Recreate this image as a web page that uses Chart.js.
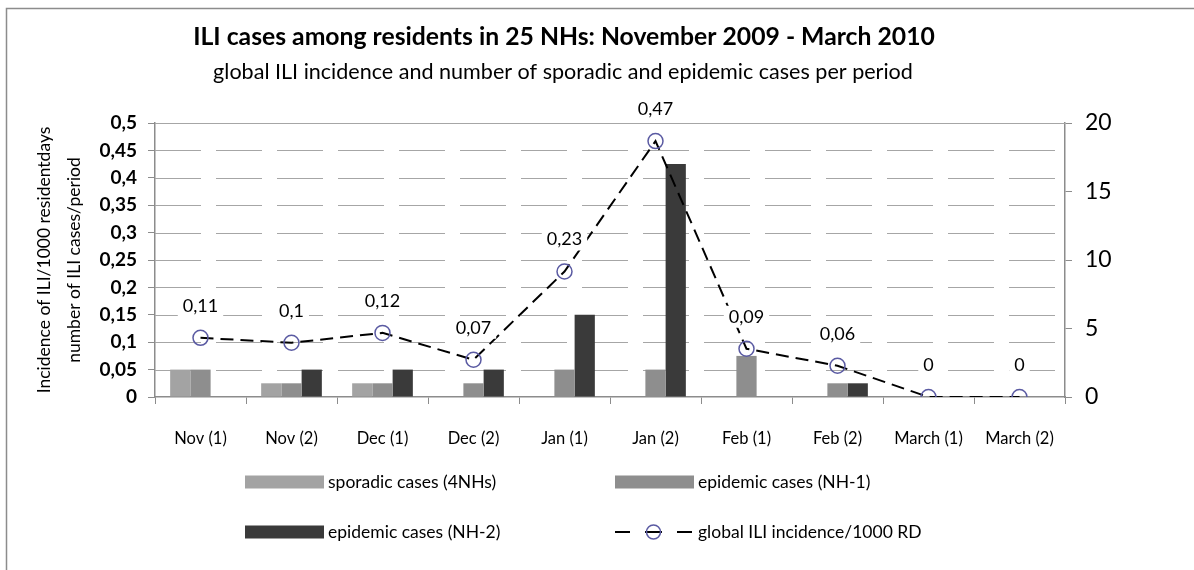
<!DOCTYPE html>
<html>
<head>
<meta charset="utf-8">
<script src="https://cdn.jsdelivr.net/npm/chart.js@4.4.1/dist/chart.umd.min.js"></script>
<style>
  html, body { margin: 0; padding: 0; background: #ffffff; }
  #wrap { width: 1194px; height: 570px; position: relative; }
</style>
</head>
<body>
<div id="wrap"><canvas id="c" width="1194" height="570"></canvas></div>
<script>
// ---- data ----
const categories = ['Nov (1)', 'Nov (2)', 'Dec (1)', 'Dec (2)', 'Jan (1)', 'Jan (2)', 'Feb (1)', 'Feb (2)', 'March (1)', 'March (2)'];
const sporadicCases = [2, 1, 1, 0, 0, 0, 0, 0, 0, 0];
const epidemicNH1 = [2, 1, 1, 1, 2, 2, 3, 1, 0, 0];
const epidemicNH2 = [0, 2, 2, 2, 6, 17, 0, 1, 0, 0];
const incidence = [0.108, 0.099, 0.117, 0.068, 0.229, 0.467, 0.088, 0.057, 0, 0];
const leftTicks = [0, 0.05, 0.1, 0.15, 0.2, 0.25, 0.3, 0.35, 0.4, 0.45, 0.5];
const rightTicks = [0, 5, 10, 15, 20];
const seriesNames = ['sporadic cases (4NHs)', 'epidemic cases (NH-1)', 'epidemic cases (NH-2)', 'global ILI incidence/1000 RD'];
const titleText = 'ILI cases among residents in 25 NHs: November 2009 - March 2010';
const subtitleText = 'global ILI incidence and number of sporadic and epidemic cases per period';
const yTitleLines = ['Incidence of ILI/1000 residentdays', 'number of ILI cases/period'];

const FONT = 'Lato, "Open Sans", sans-serif';
const fmt = v => (Math.round(v * 100) / 100).toString().replace('.', ',');

function fitFont(ctx, text, target, weight, base) {
  ctx.font = weight + ' ' + base + 'px ' + FONT;
  const w = ctx.measureText(text).width;
  return base * target / w;
}

const decor = {
  id: 'decor',
  beforeDraw(chart) {
    const ctx = chart.ctx;
    ctx.save();
    ctx.fillStyle = '#ffffff';
    ctx.fillRect(0, 0, chart.width, chart.height);
    // frame
    ctx.strokeStyle = '#8c8c8c';
    ctx.lineWidth = 1.5;
    ctx.strokeRect(6.5, 8.5, 1400, 800);
    // titles
    ctx.fillStyle = '#000';
    ctx.textAlign = 'center';
    ctx.textBaseline = 'middle';
    let s = fitFont(ctx, titleText, 742, 'bold', 18);
    ctx.font = 'bold ' + s.toFixed(2) + 'px ' + FONT;
    ctx.fillText(titleText, 564, 37);
    s = fitFont(ctx, subtitleText, 700, 'normal', 16);
    ctx.font = 'normal ' + s.toFixed(2) + 'px ' + FONT;
    ctx.fillText(subtitleText, 563, 72);
    // y axis title
    ctx.save();
    ctx.translate(44, 260);
    ctx.rotate(-Math.PI / 2);
    ctx.font = 'normal 17.5px ' + FONT;
    ctx.fillText(yTitleLines[0], 0, 0);
    ctx.fillText(yTitleLines[1], 0, 30);
    ctx.restore();
    ctx.restore();
  },
  beforeDatasetsDraw(chart) {
    const ctx = chart.ctx;
    const ys = chart.scales.y;
    const area = chart.chartArea;
    ctx.save();
    ctx.strokeStyle = '#a6a6a6';
    ctx.lineWidth = 1;
    leftTicks.forEach(v => {
      if (v === 0) return;
      const y = Math.round(ys.getPixelForValue(v)) + 0.5;
      ctx.setLineDash(v === 0.5 ? [] : [46, 15]);
      ctx.beginPath();
      ctx.moveTo(area.left, y);
      ctx.lineTo(area.right, y);
      ctx.stroke();
    });
    ctx.restore();
  },
  afterDatasetsDraw(chart) {
    const ctx = chart.ctx;
    const idx = chart.data.datasets.findIndex(d => d.type === 'line');
    const meta = chart.getDatasetMeta(idx);
    ctx.save();
    ctx.font = 'normal 18px ' + FONT;
    ctx.textAlign = 'center';
    ctx.textBaseline = 'middle';
    meta.data.forEach((pt, i) => {
      const t = fmt(incidence[i]);
      const w = ctx.measureText(t).width + 10;
      const x = pt.x, y = pt.y - 32;
      ctx.fillStyle = '#ffffff';
      ctx.fillRect(x - w / 2, y - 11, w, 22);
      ctx.fillStyle = '#000';
      ctx.fillText(t, x, y);
    });
    ctx.restore();
  },
  afterDraw(chart) {
    // legend
    const ctx = chart.ctx;
    const ds = chart.data.datasets;
    const items = [
      { d: ds[0], x: 245, y: 482 },
      { d: ds[1], x: 615, y: 482 },
      { d: ds[2], x: 245, y: 532 },
      { d: ds[3], x: 615, y: 532 }
    ];
    ctx.save();
    ctx.font = 'normal 17.5px ' + FONT;
    ctx.textBaseline = 'middle';
    ctx.textAlign = 'left';
    items.forEach(it => {
      if (it.d.type === 'line') {
        ctx.strokeStyle = '#000';
        ctx.lineWidth = 2;
        ctx.beginPath();
        ctx.moveTo(it.x, it.y); ctx.lineTo(it.x + 15, it.y);
        ctx.moveTo(it.x + 62, it.y); ctx.lineTo(it.x + 77, it.y);
        ctx.moveTo(it.x + 30, it.y); ctx.lineTo(it.x + 47, it.y);
        ctx.stroke();
        ctx.strokeStyle = it.d.pointBorderColor;
        ctx.lineWidth = 1.5;
        ctx.beginPath();
        ctx.arc(it.x + 38.5, it.y, 7, 0, Math.PI * 2);
        ctx.stroke();
      } else {
        ctx.fillStyle = it.d.backgroundColor;
        ctx.fillRect(it.x, it.y - 6.5, 79, 13);
      }
      ctx.fillStyle = '#000';
      ctx.fillText(it.d.label, it.x + 83, it.y);
    });
    ctx.restore();
  }
};

const ctx = document.getElementById('c').getContext('2d');
new Chart(ctx, {
  data: {
    labels: categories,
    datasets: [
      { type: 'bar', label: seriesNames[0], data: sporadicCases, yAxisID: 'y1', backgroundColor: '#a3a3a3', order: 2 },
      { type: 'bar', label: seriesNames[1], data: epidemicNH1, yAxisID: 'y1', backgroundColor: '#8e8e8e', order: 2 },
      { type: 'bar', label: seriesNames[2], data: epidemicNH2, yAxisID: 'y1', backgroundColor: '#3a3a3a', order: 2 },
      { type: 'line', label: seriesNames[3], data: incidence, yAxisID: 'y', order: 1,
        borderColor: '#000000', borderWidth: 2, borderDash: [13, 7], tension: 0, fill: false,
        pointStyle: 'circle', pointRadius: 7.5, pointBorderColor: '#5a5aa2', pointBorderWidth: 1.5,
        pointBackgroundColor: 'rgba(0,0,0,0)' }
    ]
  },
  options: {
    responsive: false,
    animation: false,
    devicePixelRatio: 1,
    layout: { padding: { top: 123, left: 0, right: 0, bottom: 0 } },
    datasets: { bar: { categoryPercentage: 0.667, barPercentage: 1.0 } },
    plugins: { legend: { display: false }, tooltip: { enabled: false }, title: { display: false } },
    scales: {
      x: {
        offset: true,
        grid: { offset: true, drawOnChartArea: false, drawTicks: true, tickLength: 7, color: '#8c8c8c' },
        border: { display: true, color: '#8c8c8c', width: 1.5 },
        ticks: { color: '#000', font: { family: FONT, size: 16.5 }, padding: 25, maxRotation: 0, autoSkip: false },
        afterFit(s) { s.height = 570 - 397; }
      },
      y: {
        position: 'left', min: 0, max: 0.5,
        afterBuildTicks(s) { s.ticks = leftTicks.map(v => ({ value: v })); },
        grid: { drawOnChartArea: false, drawTicks: true, tickLength: 7, color: '#8c8c8c' },
        border: { display: true, color: '#8c8c8c', width: 1.5 },
        ticks: { color: '#000', font: { family: FONT, size: 19, weight: 'bold' }, padding: 11, callback: v => fmt(v) },
        afterFit(s) { s.width = 155; }
      },
      y1: {
        position: 'right', min: 0, max: 20,
        afterBuildTicks(s) { s.ticks = rightTicks.map(v => ({ value: v })); },
        grid: { drawOnChartArea: false, drawTicks: true, tickLength: 7, color: '#8c8c8c' },
        border: { display: true, color: '#8c8c8c', width: 1.5 },
        ticks: { color: '#000', font: { family: FONT, size: 23 }, padding: 13 },
        afterFit(s) { s.width = 1194 - 1065; }
      }
    }
  },
  plugins: [decor]
});
</script>
</body>
</html>
